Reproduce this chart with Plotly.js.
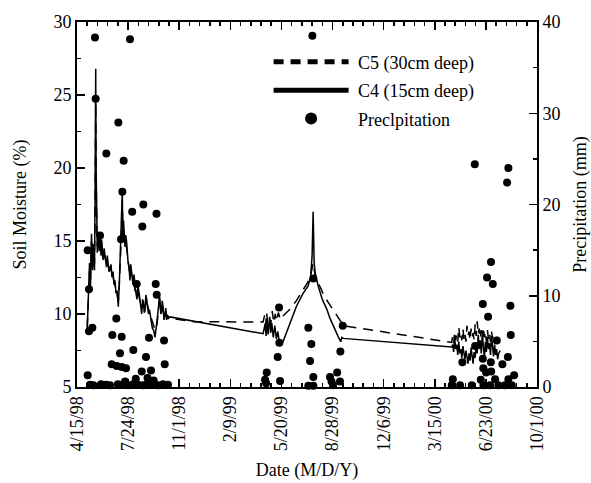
<!DOCTYPE html>
<html>
<head>
<meta charset="utf-8">
<script src="https://cdn.plot.ly/plotly-3.0.1.min.js"></script>
<style>html,body{margin:0;padding:0;background:#fff;}#chart{width:591px;height:483px;}</style>
</head>
<body>
<div id="chart"></div>
<script>
// Days since 4/15/98
const tickDays = [0, 100, 200, 300, 400, 500, 600, 700, 800, 900];
const tickLabels = ['4/15/98', '7/24/98', '11/1/98', '2/9/99', '5/20/99', '8/28/99', '12/6/99', '3/15/00', '6/23/00', '10/1/00'];

// C5 (30cm deep) soil moisture (%)
const c5Day = [20, 21.5, 22.5, 23.5, 24.5, 25.5, 26.4, 27.4, 28.4, 29.4, 30.3, 31.3, 32.3, 33.2, 34.2, 35.4, 36.6, 37.4, 38.2, 39, 39.7, 40.8, 42, 43.5, 45, 46, 47, 48, 49, 50.2, 51.5, 53, 54.8, 56.2, 57.7, 59.2, 60.7, 62.6, 64.6, 66.5, 68.5, 70.4, 72.4, 74.3, 76.3, 78.5, 80.8, 82, 83.2, 84.2, 85.1, 86.3, 87.5, 88.6, 89.3, 90, 91, 92, 93, 93.9, 95.4, 96.9, 98.3, 99.8, 101.8, 103.7, 105.2, 106.7, 108.2, 109.6, 111.5, 113.5, 115.5, 117.4, 119.4, 121.3, 124, 126.6, 128.4, 130.1, 131.5, 133, 134.7, 136.4, 138.2, 139.9, 141.8, 143.8, 145.7, 147.7, 150, 152.6, 154.6, 156.6, 158, 159.5, 161, 162.4, 163.9, 165.4, 166.8, 168.3, 170.2, 172.2, 173.7, 175.1, 177, 178.7, 182, 230,
  364, 367, 369, 371, 373, 376, 379, 382, 385, 388, 391, 394, 398, 404, 416, 429, 442, 452, 458, 462, 466, 472, 484, 497, 507, 516, 521,
  733, 735, 737, 739, 741, 743, 745, 747, 749, 751, 753, 755, 757, 759, 761, 763, 765, 767, 769, 771, 773, 775, 777, 779, 781, 783, 785, 787, 789, 791, 793, 795, 797, 799, 801, 803, 805, 807, 809, 811, 813, 815, 817, 819, 821, 823];
const c5Val = [9.1, 10.6, 11.8, 12.1, 13.0, 12.8, 12.3, 13.6, 15.0, 14.5, 13.4, 14.3, 14.2, 13.9, 13.4, 17.0, 24.5, 19.0, 16.0, 15.5, 14.6, 15.2, 14.7, 14.6, 15.0, 14.9, 14.3, 14.7, 14.4, 14.2, 14.0, 14.1, 13.7, 13.7, 13.5, 13.6, 13.3, 13.2, 13.2, 13.0, 12.7, 12.6, 12.2, 12.0, 11.7, 11.3, 10.9, 11.4, 12.2, 13.2, 14.0, 15.0, 16.5, 17.8, 16.6, 15.4, 15.9, 15.6, 15.3, 14.9, 15.0, 14.6, 14.4, 13.9, 13.4, 12.6, 13.0, 12.7, 12.6, 12.3, 12.3, 11.6, 11.6, 11.3, 11.5, 11.2, 10.9, 10.4, 10.7, 10.5, 10.4, 10.5, 10.9, 10.7, 10.6, 10.3, 10.1, 9.9, 9.7, 9.4, 9.2, 8.9, 9.0, 9.3, 9.8, 10.2, 10.8, 10.7, 10.3, 10.4, 10.6, 10.2, 9.9, 10.1, 10.2, 9.8, 9.9, 9.8, 9.7, 9.47,
  9.45, 9.9, 9.2, 10.1, 9.4, 9.8, 9.3, 10.2, 9.4, 10.0, 9.5, 10.1, 9.6, 9.9, 10.3, 10.9, 11.6, 12.2, 12.8, 13.5, 12.6, 12.1, 11.2, 10.5, 10.0, 9.5, 9.2,
  8.05, 8.5, 8.0, 8.8, 8.2, 8.6, 8.1, 9.1, 8.4, 8.7, 8.2, 9.0, 8.3, 8.7, 8.1, 9.2, 8.5, 8.8, 8.2, 9.0, 8.4, 8.7, 8.2, 9.3, 8.5, 9.5, 8.6, 9.0, 8.3, 8.9, 8.2, 9.1, 8.4, 8.8, 8.1, 8.9, 8.3, 8.7, 8.1, 8.8, 8.3, 8.6, 8.0, 8.5, 8.2, 8.45];

// C4 (15cm deep) soil moisture (%)
const c4Day = [20, 21.5, 22.5, 23.5, 24.5, 25.5, 26.4, 27.4, 28.4, 29.4, 30.3, 31.3, 32.3, 33.2, 34.2, 35.4, 36.6, 37.4, 38.2, 39, 39.7, 40.8, 42, 43.5, 45, 46, 47, 48, 49, 50.2, 51.5, 53, 54.8, 56.2, 57.7, 59.2, 60.7, 62.6, 64.6, 66.5, 68.5, 70.4, 72.4, 74.3, 76.3, 78.5, 80.8, 82, 83.2, 84.2, 85.1, 86.3, 87.5, 88.6, 89.3, 90, 91, 92, 93, 93.9, 95.4, 96.9, 98.3, 99.8, 101.8, 103.7, 105.2, 106.7, 108.2, 109.6, 111.5, 113.5, 115.5, 117.4, 119.4, 121.3, 124, 126.6, 128.4, 130.1, 131.5, 133, 134.7, 136.4, 138.2, 139.9, 141.8, 143.8, 145.7, 147.7, 150, 152.6, 154.6, 156.6, 158, 159.5, 161, 162.4, 163.9, 165.4, 166.8, 168.3, 170.2, 172.2, 173.7, 175.1, 177, 178.7, 182,
  364, 368, 370, 372, 374, 377, 379, 381, 384, 387, 390, 393, 396, 399, 403, 416, 429, 442, 452, 457, 460, 462, 464, 466, 472, 480, 489, 495, 502, 507, 511, 516, 518, 521,
  733, 735, 737, 739, 741, 743, 745, 747, 749, 751, 753, 755, 757, 759, 761, 763, 765, 767, 769, 771, 773, 775, 777, 779, 781, 783, 785, 787, 789, 791, 793, 795, 797, 799, 801, 803, 805, 807, 809, 811, 813, 815, 817, 819, 821, 823, 825, 828];
const c4Val = [8.9, 10.2, 11.5, 12.6, 13.5, 12.4, 11.9, 14.0, 15.5, 14.2, 13.0, 14.8, 14.5, 13.6, 13.0, 18.0, 26.8, 20.0, 16.5, 15.2, 14.2, 15.6, 15.0, 14.3, 15.4, 14.6, 14.0, 15.1, 14.8, 13.9, 13.7, 14.5, 14.0, 13.4, 13.2, 14.0, 13.6, 12.9, 13.0, 13.4, 12.5, 12.9, 12.0, 12.3, 11.4, 11.6, 10.5, 11.2, 12.5, 13.6, 14.5, 15.5, 17.0, 18.4, 16.2, 15.0, 16.4, 16.0, 15.1, 14.6, 15.4, 15.0, 14.2, 13.6, 13.2, 12.3, 13.4, 13.0, 12.4, 12.0, 12.7, 11.9, 11.4, 11.0, 11.9, 11.5, 10.6, 10.0, 11.0, 10.8, 10.1, 10.2, 11.3, 11.0, 10.4, 10.0, 10.3, 9.6, 9.4, 9.0, 8.9, 8.4, 8.9, 9.5, 10.0, 10.5, 11.2, 11.0, 10.0, 10.2, 10.9, 10.5, 9.6, 10.0, 10.4, 9.6, 9.9, 9.7, 9.8,
  8.65, 9.3, 8.5, 9.6, 8.6, 9.8, 8.7, 9.4, 8.4, 9.2, 8.3, 8.8, 8.0, 8.2, 8.1, 9.3, 10.5, 11.4, 11.9, 12.5, 14.0, 17.0, 13.5, 12.8, 11.9, 11.0, 10.3, 9.7, 9.1, 8.8, 8.45, 8.1, 8.4, 8.33,
  7.74, 7.9, 7.4, 8.3, 7.6, 7.9, 7.2, 8.1, 7.3, 7.6, 7.0, 7.8, 7.4, 6.9, 7.5, 7.1, 6.6, 7.3, 6.8, 7.7, 6.9, 6.6, 7.4, 7.0, 7.9, 7.3, 8.6, 7.6, 8.2, 7.3, 8.6, 7.5, 7.0, 8.1, 7.4, 8.4, 7.6, 8.0, 7.2, 8.5, 7.7, 7.1, 7.9, 7.2, 7.6, 6.9, 7.3, 7.5];

// Precipitation (mm)
const precipDay = [35.2, 103.7, 36.5, 80.9, 57.4, 91.3, 88.7, 129.8, 108, 155.5, 127.8, 20.9, 45, 86.1, 23.5, 116.8, 154, 156, 76.9, 23.5, 30, 69.1, 87.4, 140.9, 170.3, 84.1, 110.2, 135, 67.9, 77.7, 87.5, 95.9, 171.6, 20.9, 126.6, 144.8, 94, 115, 138, 150,
  25.4, 32, 47, 57, 64.6, 80, 90, 100, 109.6, 119.4, 129, 137, 148.7, 158.5, 168.3, 178,
  460.5, 462.4, 395.3, 452.6, 520, 395.9, 458.5, 392.7, 515.3, 456, 371.2, 367.9, 397.3, 462.4, 495, 509, 514.5, 501, 452.6, 462.4, 370, 498,
  778.3, 844, 841.5, 810, 802.3, 813.5, 794, 848, 804.3, 848.7, 821.3, 778.9, 754, 794, 809.6, 832.3, 843, 795, 800.4, 810.4, 735.3, 790, 818, 855.2, 844,
  733.2, 749.5, 772.4, 795.1, 808.2, 824.5, 837.6, 850.7];
const precipMm = [38.3, 38.1, 31.6, 29.0, 25.6, 24.8, 21.4, 20.0, 19.2, 19.0, 17.6, 15.0, 16.6, 16.2, 10.7, 11.3, 11.3, 10.1, 7.5, 6.1, 6.5, 5.7, 5.5, 5.4, 5.1, 3.7, 4.05, 3.3, 2.5, 2.3, 2.2, 2.05, 2.5, 1.3, 1.7, 1.8, 0.6, 0.9, 1.0, 0.7,
  0.25, 0.2, 0.3, 0.25, 0.2, 0.3, 0.25, 0.2, 0.3, 0.25, 0.2, 0.3, 0.25, 0.2, 0.3, 0.25,
  38.5, 11.9, 8.7, 6.5, 6.7, 4.85, 4.7, 3.3, 3.9, 2.85, 1.6, 0.8, 0.65, 1.1, 1.1, 1.6, 0.6, 0.2, 0.15, 0.15, 0.4, 0.6,
  24.4, 24.0, 22.4, 13.7, 12.0, 11.3, 9.1, 8.9, 7.7, 5.7, 5.1, 4.5, 2.7, 3.1, 2.7, 2.5, 3.3, 2.05, 1.6, 1.7, 0.85, 0.8, 0.85, 1.3, 0.85,
  0.2, 0.2, 0.2, 0.2, 0.2, 0.2, 0.2, 0.2];

const FONT = 'Liberation Serif, Times New Roman, serif';

const traces = [
  {x: c5Day, y: c5Val, type: 'scatter', mode: 'lines', name: '\u00a0C5 (30cm deep)', legendrank: 1, legendgroup: 'a',
   line: {color: '#000', width: 1.5, dash: '10px,7px'}},
  {x: c4Day, y: c4Val, type: 'scatter', mode: 'lines', name: '\u00a0C4 (15cm deep)', legendrank: 2, legendgroup: 'b',
   line: {color: '#000', width: 1.5}},
  {x: precipDay, y: precipMm, type: 'scatter', mode: 'markers', name: '\u00a0Preclpitation', legendrank: 3, legendgroup: 'c',
   yaxis: 'y2', cliponaxis: false, marker: {color: '#000', size: 8}}
];

const axisCommon = {
  showline: true, linecolor: '#000', linewidth: 2,
  ticks: 'inside', ticklen: 8, tickwidth: 1.5, tickcolor: '#000',
  showgrid: false, zeroline: false,
  tickfont: {family: FONT, size: 18, color: '#000'}
};

const layout = {
  width: 591, height: 483,
  margin: {l: 77, r: 54, t: 22, b: 96},
  paper_bgcolor: '#fff', plot_bgcolor: '#fff',
  font: {family: FONT, size: 18, color: '#000'},
  showlegend: true,
  legend: {x: 0.4165, y: 0.941, xanchor: 'left', yanchor: 'top', bgcolor: 'rgba(0,0,0,0)', tracegroupgap: 2,
           font: {family: FONT, size: 18, color: '#000'}, itemwidth: 75, itemsizing: 'constant'},
  xaxis: Object.assign({}, axisCommon, {
    range: [0, 900], tickmode: 'array', tickvals: tickDays, ticktext: tickLabels,
    tickangle: -90, mirror: 'ticks',
    minor: {tickmode: 'linear', tick0: 0, dtick: 20, ticks: 'inside', ticklen: 4, tickwidth: 1.5, tickcolor: '#000'},
    title: {text: 'Date (M/D/Y)', font: {family: FONT, size: 18}, standoff: 13}
  }),
  yaxis: Object.assign({}, axisCommon, {
    range: [5, 30], tickmode: 'linear', tick0: 5, dtick: 5,
    minor: {tickmode: 'linear', tick0: 5, dtick: 2.5, ticks: 'inside', ticklen: 4, tickwidth: 1.5, tickcolor: '#000'},
    title: {text: 'Soil Moisture (%)', font: {family: FONT, size: 18}, standoff: 22}
  }),
  yaxis2: Object.assign({}, axisCommon, {
    overlaying: 'y', side: 'right',
    range: [0, 40], tickmode: 'linear', tick0: 0, dtick: 10,
    minor: {tickmode: 'linear', tick0: 0, dtick: 5, ticks: 'inside', ticklen: 4, tickwidth: 1.5, tickcolor: '#000'},
    title: {text: 'Precipitation (mm)', font: {family: FONT, size: 18}, standoff: 16}
  })
};

Plotly.newPlot('chart', traces, layout, {staticPlot: true, displayModeBar: false});
</script>
</body>
</html>
